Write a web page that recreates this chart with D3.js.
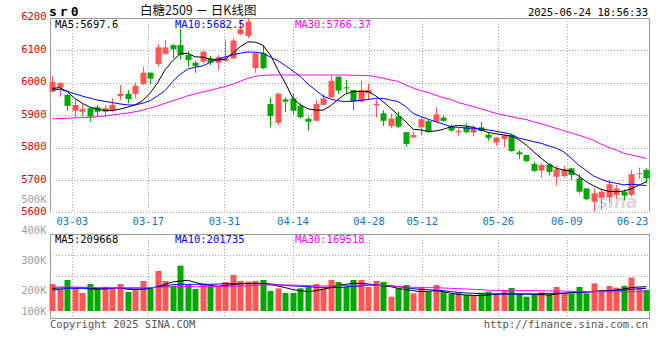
<!DOCTYPE html>
<html><head><meta charset="utf-8">
<script src="https://cdn.jsdelivr.net/npm/d3@7"></script>
<style>body{margin:0;background:#fff} svg{display:block}</style>
</head><body>
<svg id="c" width="660" height="360"></svg>
<script>
const dates = ["02-26","02-27","02-28",
"03-03","03-04","03-05","03-06","03-07","03-10","03-11","03-12","03-13","03-14",
"03-17","03-18","03-19","03-20","03-21","03-24","03-25","03-26","03-27","03-28",
"03-31","04-01","04-02","04-03","04-07","04-08","04-09","04-10","04-11",
"04-14","04-15","04-16","04-17","04-18","04-21","04-22","04-23","04-24","04-25",
"04-28","04-29","04-30","05-06","05-07","05-08","05-09",
"05-12","05-13","05-14","05-15","05-16","05-19","05-20","05-21","05-22","05-23",
"05-26","05-27","05-28","05-29","05-30","06-03","06-04","06-05","06-06",
"06-09","06-10","06-11","06-12","06-13","06-16","06-17","06-18","06-19","06-20",
"06-23","06-24"];
const tickDates = ["03-03","03-17","03-31","04-14","04-28","05-12","05-26","06-09","06-23"];
const opens = [5972,5984,5962,5913,5910,5921,5924,5910,5915,5958,
5965,5965,5995,6030,6057,6088,6115,6115,6085,6061,
6064,6074,6061,6067,6074,6149,6143,6044,6090,5934,
5876,5948,5951,5928,5888,5882,5931,5954,6018,5985,
5977,5941,5967,5930,5905,5866,5896,5847,5831,5862,
5881,5879,5892,5866,5847,5862,5846,5862,5839,5815,
5826,5838,5785,5777,5749,5729,5748,5710,5712,5736,
5705,5674,5633,5645,5646,5654,5664,5654,5718,5731];
const highs = [6020,6000,5965,5946,5934,5924,5931,5931,5951,5992,
5977,5999,6049,6031,6118,6131,6118,6164,6095,6067,
6100,6082,6085,6131,6136,6192,6198,6090,6115,5954,
5969,5954,5965,5936,5895,5946,5965,6023,6018,6008,
5977,6005,5997,5946,5915,5905,5910,5847,5849,5893,
5887,5924,5900,5872,5859,5874,5869,5879,5847,5832,
5839,5839,5792,5777,5756,5751,5751,5743,5743,5736,
5718,5675,5674,5674,5700,5685,5671,5731,5738,5736];
const lows = [5970,5956,5913,5893,5895,5879,5895,5893,5910,5946,
5936,5951,5992,5995,6049,6085,6075,6071,6049,6030,
6059,6054,6038,6064,6071,6146,6137,6030,6041,5862,
5869,5910,5903,5889,5852,5882,5931,5954,5965,5965,
5915,5938,5946,5892,5866,5859,5859,5802,5828,5838,
5844,5879,5879,5849,5835,5844,5835,5847,5821,5805,
5801,5787,5765,5754,5724,5707,5715,5682,5708,5700,
5659,5638,5602,5608,5630,5641,5638,5649,5703,5690];
const closes = [6002,5999,5928,5931,5918,5895,5910,5921,5931,5965,
5949,5990,6030,6012,6108,6108,6102,6085,6069,6051,
6095,6061,6078,6074,6129,6164,6187,6090,6044,5897,
5965,5941,5913,5893,5879,5934,5951,6005,5975,5982,
5941,5977,5977,5934,5882,5889,5864,5811,5838,5887,
5849,5902,5882,5852,5851,5847,5862,5851,5830,5831,
5838,5789,5779,5758,5728,5746,5725,5733,5733,5715,
5664,5641,5659,5664,5687,5674,5652,5718,5721,5705];
const ma5 = [5982,5984,5972,5951,5936,5924,5918,5914,5914,5918,
5924,5931,5944,5967,5999,6039,6067,6088,6090,6079,
6078,6072,6069,6072,6090,6110,6125,6124,6115,6085,
6039,5998,5951,5931,5919,5915,5915,5928,5948,5965,
5972,5972,5972,5959,5941,5921,5900,5879,5856,5854,
5849,5851,5856,5864,5868,5866,5862,5854,5846,5842,
5839,5835,5825,5808,5787,5767,5749,5736,5731,5727,
5712,5695,5682,5671,5665,5664,5666,5673,5684,5695];
const ma10 = [5977,5979,5973,5965,5958,5952,5946,5942,5938,5934,
5931,5931,5936,5944,5959,5975,6003,6025,6041,6047,
6051,6062,6072,6079,6085,6090,6094,6093,6090,6078,
6067,6052,6036,6018,5995,5977,5958,5949,5944,5941,
5943,5945,5948,5951,5951,5946,5941,5926,5905,5895,
5887,5879,5872,5864,5862,5860,5859,5857,5854,5850,
5846,5841,5829,5824,5818,5813,5805,5798,5787,5767,
5746,5729,5712,5702,5694,5690,5685,5687,5685,5683];
const ma30 = [5888,5889,5890,5891,5892,5893,5895,5897,5900,5903,
5906,5910,5915,5921,5928,5936,5944,5951,5959,5965,
5971,5976,5982,5988,5995,6004,6013,6019,6022,6023,
6023,6023,6023,6023,6023,6023,6023,6023,6023,6023,
6022,6022,6021,6018,6013,6008,6003,5992,5983,5975,
5969,5961,5953,5948,5938,5932,5926,5919,5912,5905,
5900,5895,5890,5886,5879,5873,5866,5859,5852,5845,
5838,5830,5822,5810,5800,5792,5782,5777,5772,5766];
const volumes = [222100,204500,235300,212200,192400,222100,207800,213300,207800,222100,
195700,205600,232000,207800,265000,232000,216600,282600,218800,205600,
223200,215500,216600,228700,251800,232000,229800,232000,235300,199000,
207800,192400,192400,207800,212200,222100,207800,235300,228700,213300,
235300,235300,212200,232000,228700,180300,207800,218800,191300,212200,
196800,218800,196800,189100,194600,185800,185800,193500,196800,190200,
202300,208900,189100,180300,188000,194600,188000,212200,189100,189100,
212200,191300,224300,202300,215500,210000,215500,243000,210000,202300];
const volMa5 = [207800,208900,210000,211100,211100,208900,206700,205600,207800,210000,
204500,204500,204500,207800,213300,221000,228700,232000,234200,227600,
221000,217700,214400,217700,219900,223200,224300,224300,224300,221000,
215500,210000,203400,200100,196800,200100,204500,210000,217700,221000,
224300,224300,222100,218800,215500,213300,207800,203400,200100,196800,
197900,200100,196800,191300,188000,185800,184700,183600,185800,189100,
189100,189100,189100,189100,188000,186900,185800,189100,191300,193500,
195700,196800,197900,199000,200100,202300,205600,210000,212200,213300];
const volMa10 = [202300,204500,207800,207800,207800,205600,204500,207800,208900,210000,
206700,205600,205600,208900,212200,215500,219900,221000,221000,221000,
221000,221000,222100,223200,223200,223200,223200,223200,223200,222100,
219900,217700,215500,214400,214400,211100,211100,211100,210000,212200,
214400,215500,218800,218800,217700,216600,213300,210000,206700,204500,
203400,201200,200100,196800,194600,192400,191300,190200,189100,189100,
189100,189100,189100,189100,189100,190200,191300,191300,192400,192400,
193500,194600,196800,197900,199000,201200,202300,204500,206700,207800];
const volMa30 = [212200,212200,212200,211100,211100,211100,210000,210000,210000,210000,
210000,210000,210000,210000,211100,212200,212200,213300,213300,213300,
213300,213300,213300,214400,214400,215500,216600,217700,218800,218800,
218800,218800,218800,217700,216600,215500,215500,215500,216600,217700,
217700,218800,218800,217700,216600,215500,213300,212200,211100,211100,
210000,210000,208900,207800,206700,205600,204500,203400,201200,201200,
201200,200100,200100,200100,200100,200100,199000,199000,199000,197900,
196800,196800,196800,196800,196800,196800,196800,196800,196800,195700];
const priceTicks = [5600,5700,5800,5900,6000,6100,6200];
const volTicks = [100000,200000,300000,400000,500000];
const priceLegend = ["MA5:5697.6","MA10:5682.5","MA30:5766.37"];
const volLegend = ["MA5:209668","MA10:201735","MA30:169518"];

const RED = "#ff5555", GREEN = "#00a800", GRID = "#aaaaaa", BORDER = "#999999";
const MONO = "'DejaVu Sans Mono','Liberation Mono',monospace";
const svg = d3.select("#c");
const n = dates.length;
const x = d3.scaleLinear().domain([0, n - 1]).range([52.3, 646.4]);
const xg = d3.scaleLinear().domain([0, n - 1]).range([49.5, 650.4]);
const y = d3.scaleLinear().domain([5600, 6200]).range([212.5, 17.5]);
const yv = d3.scaleLinear().domain([133000, 400000]).range([311, 230.1]);
const L = 50, R = 650, PT = 18, PB = 212, VT = 234, VB = 318, VBASE = 311;
const idx = d3.range(n);

// price grid
const g = svg.append("g");
priceTicks.slice(1, -1).forEach(v => {
  g.append("line").attr("x1", L).attr("x2", R).attr("y1", Math.round(y(v)) + 0.5).attr("y2", Math.round(y(v)) + 0.5)
   .attr("stroke", GRID).attr("stroke-dasharray", "1,2");
});
g.append("line").attr("x1", L).attr("x2", R).attr("y1", PB + 0.5).attr("y2", PB + 0.5)
 .attr("stroke", GRID).attr("stroke-dasharray", "1,2");
const gridIdx = tickDates.slice(0, -1).map(d => dates.indexOf(d));
gridIdx.forEach(i => {
  const gx = Math.round(xg(i)) + 0.5;
  g.append("line").attr("x1", gx).attr("x2", gx).attr("y1", PT).attr("y2", PB)
   .attr("stroke", GRID).attr("stroke-dasharray", "1,2");
  g.append("line").attr("x1", gx).attr("x2", gx).attr("y1", VT).attr("y2", VB + 3)
   .attr("stroke", GRID).attr("stroke-dasharray", "1,2");
});
[0.25, 0.5, 0.75].forEach(f => {
  const gy = Math.round(VT + (VB - VT) * f) + 0.5;
  g.append("line").attr("x1", L).attr("x2", R).attr("y1", gy).attr("y2", gy)
   .attr("stroke", GRID).attr("stroke-dasharray", "1,2");
});
// borders
g.append("path").attr("d", `M${L + 0.5},${PB}V${PT + 0.5}H${R - 0.5}V${PB}`)
 .attr("fill", "none").attr("stroke", BORDER);
g.append("rect").attr("x", L + 0.5).attr("y", VT + 0.5).attr("width", R - L - 1).attr("height", VB - VT)
 .attr("fill", "none").attr("stroke", BORDER);

// watermark
svg.append("text").attr("x", 598).attr("y", 208).attr("font-family", "Verdana,'DejaVu Sans',sans-serif")
 .attr("font-size", 17).attr("font-style", "italic").attr("font-weight", "bold")
 .attr("fill", "#d8d8d8").text("sina");

// candles
const cg = svg.append("g");
idx.forEach(i => {
  const up = closes[i] >= opens[i];
  const col = up ? RED : GREEN;
  const cx = Math.round(x(i));
  cg.append("line").attr("x1", cx + 0.5).attr("x2", cx + 0.5).attr("y1", y(highs[i])).attr("y2", y(lows[i]))
    .attr("stroke", col).attr("stroke-width", 1);
  const top = y(Math.max(opens[i], closes[i])), bot = y(Math.min(opens[i], closes[i]));
  cg.append("rect").attr("x", cx - 2.5).attr("y", top).attr("width", 6).attr("height", Math.max(1, bot - top))
    .attr("fill", col);
});
// price MA lines
const lineP = d3.line().x((d, i) => x(i)).y(d => y(d));
[[ma5, "#000000"], [ma10, "#0000ff"], [ma30, "#ff00ff"]].forEach(([arr, c]) => {
  svg.append("path").attr("d", lineP(arr)).attr("fill", "none").attr("stroke", c).attr("stroke-width", 1);
});

// volume bars
const vg = svg.append("g");
idx.forEach(i => {
  const up = closes[i] >= opens[i];
  const cx = Math.round(x(i));
  vg.append("rect").attr("x", cx - 2.5).attr("y", yv(volumes[i])).attr("width", 6)
    .attr("height", VBASE - yv(volumes[i])).attr("fill", up ? RED : GREEN);
});
const lineV = d3.line().x((d, i) => x(i)).y(d => yv(d));
[[volMa5, "#000000"], [volMa10, "#0000ff"], [volMa30, "#ff00ff"]].forEach(([arr, c]) => {
  svg.append("path").attr("d", lineV(arr)).attr("fill", "none").attr("stroke", c).attr("stroke-width", 1);
});

// axis labels
const t = svg.append("g").attr("font-family", MONO).attr("font-size", 10.5);
priceTicks.forEach(v => {
  t.append("text").attr("x", 46.5).attr("y", y(v) - 1).attr("dy", "0.35em").attr("text-anchor", "end")
   .attr("fill", "#e00000").text(v);
});
volTicks.forEach(v => {
  t.append("text").attr("x", 46.5).attr("y", Math.min(yv(v), VBASE)).attr("dy", "0.35em").attr("text-anchor", "end")
   .attr("fill", "#a0a0a0").text(d3.format("d")(v / 1000) + "K");
});
tickDates.forEach(d => {
  const i = dates.indexOf(d);
  t.append("text").attr("x", Math.min(xg(i), 632.5)).attr("y", 221.5).attr("dy", "0.35em").attr("text-anchor", "middle")
   .attr("fill", "#0a78c8").text(d);
});
// legends
const legCols = ["#000000", "#0000ff", "#ff00ff"], legX = [55, 175, 295];
priceLegend.forEach((s, k) => t.append("text").attr("x", legX[k]).attr("y", 24).attr("dy", "0.35em").attr("fill", legCols[k]).text(s));
volLegend.forEach((s, k) => t.append("text").attr("x", legX[k]).attr("y", 239).attr("dy", "0.35em").attr("fill", legCols[k]).text(s));
// header
svg.append("text").attr("x", 49).attr("y", 15.5).attr("font-family", MONO).attr("font-size", 13).attr("font-weight", "bold")
 .attr("letter-spacing", "3px").attr("fill", "#000").text("sr0");
svg.append("text").attr("x", 140).attr("y", 15).attr("font-family", "'Noto Sans CJK SC',sans-serif").attr("font-size", 12.5)
 .attr("fill", "#111").text("白糖2509 － 日K线图");
t.append("text").attr("x", 648).attr("y", 12).attr("dy", "0.35em").attr("text-anchor", "end").attr("fill", "#000").text("2025-06-24 18:56:33");
t.append("text").attr("x", 50).attr("y", 324).attr("dy", "0.35em").attr("fill", "#555").text("Copyright 2025 SINA.COM");
t.append("text").attr("x", 648).attr("y", 324).attr("dy", "0.35em").attr("text-anchor", "end").attr("fill", "#555").text("http://finance.sina.com.cn");
</script>
</body></html>
